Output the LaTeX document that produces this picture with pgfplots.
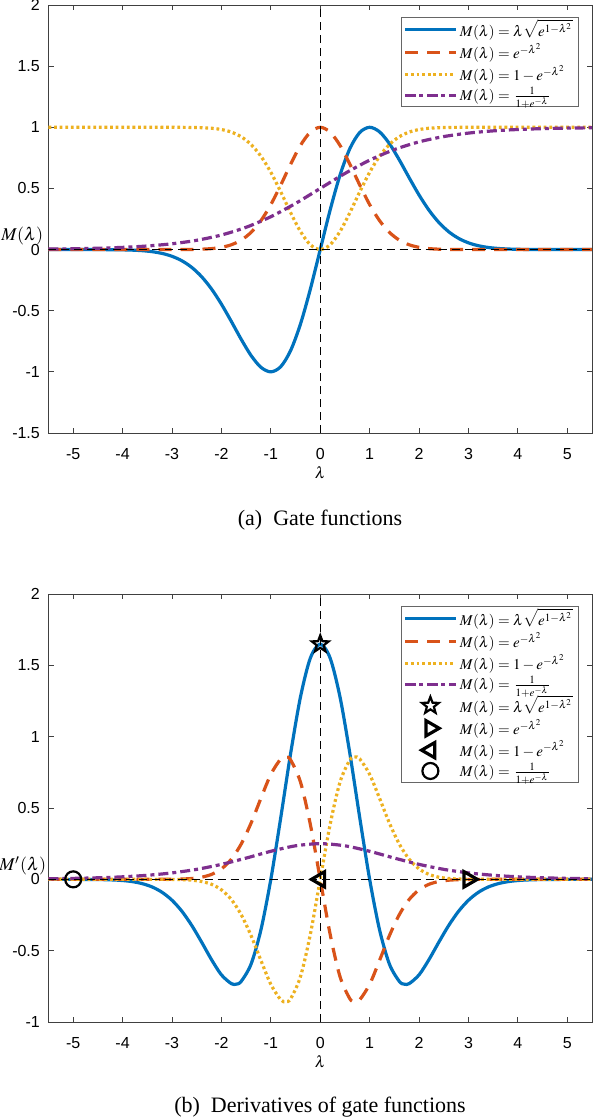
\documentclass[border=0pt]{standalone}
\usepackage{mathptmx}
\usepackage[no-math]{fontspec}
\setmainfont{Liberation Serif}
\newfontfamily\tickfont{Liberation Sans}
\usepackage{pgfplots}
\pgfplotsset{compat=1.18}
\definecolor{mblue}{rgb}{0,0.447,0.741}
\definecolor{mred}{rgb}{0.850,0.325,0.098}
\definecolor{myellow}{rgb}{0.929,0.694,0.125}
\definecolor{mpurple}{rgb}{0.494,0.184,0.556}
\pgfdeclareplotmark{pentagram}{%
  \pgfpathmoveto{\pgfqpointpolar{90}{\pgfplotmarksize}}%
  \pgfpathlineto{\pgfqpointpolar{126}{0.42\pgfplotmarksize}}%
  \pgfpathlineto{\pgfqpointpolar{162}{\pgfplotmarksize}}%
  \pgfpathlineto{\pgfqpointpolar{198}{0.42\pgfplotmarksize}}%
  \pgfpathlineto{\pgfqpointpolar{234}{\pgfplotmarksize}}%
  \pgfpathlineto{\pgfqpointpolar{270}{0.42\pgfplotmarksize}}%
  \pgfpathlineto{\pgfqpointpolar{306}{\pgfplotmarksize}}%
  \pgfpathlineto{\pgfqpointpolar{342}{0.42\pgfplotmarksize}}%
  \pgfpathlineto{\pgfqpointpolar{18}{\pgfplotmarksize}}%
  \pgfpathlineto{\pgfqpointpolar{54}{0.42\pgfplotmarksize}}%
  \pgfpathclose\pgfusepathqstroke}
\pgfplotsset{
  gatestyle/.style={
    width=271.75pt, height=214pt, scale only axis,
    xmin=-5.5, xmax=5.5, xtick={-5,-4,...,5},
    axis line style={black!75, line width=0.4pt},
    tick style={black!75, line width=0.4pt},
    tick align=inside, major tick length=2.7pt,
    ticklabel style={font=\tickfont\fontsize{8}{9}\selectfont},
    /pgf/number format/assume math mode=true,
    xticklabel style={yshift=-4.3pt},
    yticklabel style={xshift=-0.8pt},
    xlabel={$\lambda$},
    every axis x label/.style={at={(axis description cs:0.5,0)}, anchor=center, yshift=-20pt, font=\fontsize{8}{9}\selectfont},
    legend style={at={(rel axis cs:1,1)}, anchor=north east, xshift=-7pt, yshift=-6pt, outer sep=0pt,
      font=\fontsize{7.5}{8.5}\selectfont, draw=black!60, line width=0.4pt,
      inner xsep=1pt, inner ysep=1pt, row sep=0.9pt, column sep=0pt,
      nodes={inner xsep=1.5pt, inner ysep=0.4pt}},
    legend cell align=left,
    legend image code/.code={\draw[mark repeat=2,mark phase=2] plot coordinates {(0pt,0pt)(12.5pt,0pt)(25pt,0pt)};},
    every axis plot/.append style={line width=1.6pt},
  },
  c1/.style={mblue, solid},
  c2/.style={mred, dash pattern=on 6.5pt off 4.5pt},
  c3/.style={myellow, dash pattern=on 1.4pt off 1.4pt},
  c4/.style={mpurple, dash pattern=on 5pt off 2pt on 2pt off 2pt},
  refl/.style={black, line width=0.45pt, dash pattern=on 4pt off 2.5pt, forget plot},
  mk/.style={only marks, black, mark size=4.4pt, mark options={solid, line width=1.1pt, black, fill=none}},
}
\begin{document}
\begin{tikzpicture}
\path[use as bounding box] (0,0) rectangle (297pt,-560pt);
% ---------------- (a) gate functions ----------------
\begin{axis}[gatestyle, at={(24.25pt,-2.5pt)}, anchor=north west,
  ymin=-1.5, ymax=2, ytick={-1.5,-1,-0.5,0,0.5,1,1.5,2},
  ylabel={$M(\lambda)$},
  every axis y label/.style={at={(axis description cs:0,0.428571)}, anchor=east, inner sep=0pt, xshift=-2.5pt, yshift=6.8pt, font=\fontsize{9}{10}\selectfont}]
\addplot[c1, smooth] coordinates {
(-5.5,0) (-5,0) (-4.5,-0.0003) (-4.2,-0.0010) (-4,-0.0022) (-3.8,-0.0046) (-3.6,-0.0091) (-3.4,-0.0173) (-3.2,-0.0315) (-3,-0.0550) (-2.8,-0.0916) (-2.6,-0.1459) (-2.4,-0.2221) (-2.2,-0.3225) (-2,-0.4463) (-1.8,-0.5873) (-1.6,-0.7335) (-1.4,-0.8663) (-1.2,-0.9630) (-1,-1) (-0.8,-0.9578) (-0.6,-0.8263) (-0.4,-0.6088) (-0.2,-0.3232) (0,0)
(0.2,0.3232) (0.4,0.6088) (0.6,0.8263) (0.8,0.9578) (1,1) (1.2,0.9630) (1.4,0.8663) (1.6,0.7335) (1.8,0.5873) (2,0.4463) (2.2,0.3225) (2.4,0.2221) (2.6,0.1459) (2.8,0.0916) (3,0.0550) (3.2,0.0315) (3.4,0.0173) (3.6,0.0091) (3.8,0.0046) (4,0.0022) (4.2,0.0010) (4.5,0.0003) (5,0) (5.5,0)};
\addlegendentry{$M(\lambda)=\lambda\sqrt{e^{1-\lambda^2}}$}
\addplot[c2, smooth] coordinates {
(-5.5,0) (-5,0) (-4.5,0) (-4,0) (-3.5,0) (-3,0.0001) (-2.8,0.0004) (-2.6,0.0012) (-2.4,0.0032) (-2.2,0.0079) (-2,0.0183) (-1.8,0.0392) (-1.6,0.0773) (-1.4,0.1409) (-1.2,0.2369) (-1,0.3679) (-0.8,0.5273) (-0.6,0.6977) (-0.4,0.8521) (-0.2,0.9608) (0,1)
(0.2,0.9608) (0.4,0.8521) (0.6,0.6977) (0.8,0.5273) (1,0.3679) (1.2,0.2369) (1.4,0.1409) (1.6,0.0773) (1.8,0.0392) (2,0.0183) (2.2,0.0079) (2.4,0.0032) (2.6,0.0012) (2.8,0.0004) (3,0.0001) (3.5,0) (4,0) (4.5,0) (5,0) (5.5,0)};
\addlegendentry{$M(\lambda)=e^{-\lambda^2}$}
\addplot[c3, smooth] coordinates {
(-5.5,1) (-5,1) (-4.5,1) (-4,1) (-3.5,1) (-3,0.9999) (-2.8,0.9996) (-2.6,0.9988) (-2.4,0.9968) (-2.2,0.9921) (-2,0.9817) (-1.8,0.9608) (-1.6,0.9227) (-1.4,0.8591) (-1.2,0.7631) (-1,0.6321) (-0.8,0.4727) (-0.6,0.3023) (-0.4,0.1479) (-0.2,0.0392) (0,0)
(0.2,0.0392) (0.4,0.1479) (0.6,0.3023) (0.8,0.4727) (1,0.6321) (1.2,0.7631) (1.4,0.8591) (1.6,0.9227) (1.8,0.9608) (2,0.9817) (2.2,0.9921) (2.4,0.9968) (2.6,0.9988) (2.8,0.9996) (3,0.9999) (3.5,1) (4,1) (4.5,1) (5,1) (5.5,1)};
\addlegendentry{$M(\lambda)=1-e^{-\lambda^2}$}
\addplot[c4, smooth] coordinates {
(-5.5,0.0041) (-5,0.0067) (-4.5,0.0110) (-4,0.0180) (-3.5,0.0293) (-3,0.0474) (-2.5,0.0759) (-2,0.1192) (-1.5,0.1824) (-1,0.2689) (-0.5,0.3775) (0,0.5) (0.5,0.6225) (1,0.7311) (1.5,0.8176) (2,0.8808) (2.5,0.9241) (3,0.9526) (3.5,0.9707) (4,0.9820) (4.5,0.9890) (5,0.9933) (5.5,0.9959)};
\addlegendentry{$M(\lambda)=\frac{1}{1+e^{-\lambda}}$}
\addplot[refl] coordinates {(-5.5,0) (5.5,0)};
\addplot[refl] coordinates {(0,-1.5) (0,2)};
\end{axis}
\node[font=\fontsize{11}{13}\selectfont] at (160pt,-260pt) {(a)\hspace{0.5em}Gate functions};
% ---------------- (b) derivatives ----------------
\begin{axis}[gatestyle, at={(24.25pt,-297pt)}, anchor=north west,
  ymin=-1, ymax=2, ytick={-1,-0.5,0,0.5,1,1.5,2},
  ylabel={$M'(\lambda)$},
  every axis y label/.style={at={(axis description cs:0,0.333333)}, anchor=east, inner sep=0pt, xshift=-1pt, yshift=6.8pt, font=\fontsize{9}{10}\selectfont}]
\addplot[c1, smooth] coordinates {
(-5.5,0) (-5,-0.0002) (-4.5,-0.0013) (-4.2,-0.0041) (-4,-0.0083) (-3.8,-0.0162) (-3.6,-0.0303) (-3.4,-0.0538) (-3.2,-0.0910) (-3,-0.1465) (-2.8,-0.2237) (-2.6,-0.3233) (-2.4,-0.4405) (-2.2,-0.5630) (-2,-0.6694) (-1.8,-0.7309) (-1.7,-0.7346) (-1.6,-0.7151) (-1.4,-0.5940) (-1.2,-0.3531) (-1,0) (-0.8,0.4310) (-0.6,0.8814) (-0.4,1.2785) (-0.2,1.5514) (0,1.6487)
(0.2,1.5514) (0.4,1.2785) (0.6,0.8814) (0.8,0.4310) (1,0) (1.2,-0.3531) (1.4,-0.5940) (1.6,-0.7151) (1.7,-0.7346) (1.8,-0.7309) (2,-0.6694) (2.2,-0.5630) (2.4,-0.4405) (2.6,-0.3233) (2.8,-0.2237) (3,-0.1465) (3.2,-0.0910) (3.4,-0.0538) (3.6,-0.0303) (3.8,-0.0162) (4,-0.0083) (4.2,-0.0041) (4.5,-0.0013) (5,-0.0002) (5.5,0)};
\addlegendentry{$M(\lambda)=\lambda\sqrt{e^{1-\lambda^2}}$}
\addplot[c2, smooth] coordinates {
(-5.5,0) (-5,0) (-4.5,0) (-4,0) (-3.5,0) (-3,0.0007) (-2.8,0.0022) (-2.6,0.0060) (-2.4,0.0151) (-2.2,0.0348) (-2,0.0733) (-1.8,0.1410) (-1.6,0.2474) (-1.4,0.3944) (-1.2,0.5686) (-1,0.7358) (-0.8,0.8437) (-0.7,0.8577) (-0.6,0.8372) (-0.4,0.6817) (-0.2,0.3843) (0,0)
(0.2,-0.3843) (0.4,-0.6817) (0.6,-0.8372) (0.7,-0.8577) (0.8,-0.8437) (1,-0.7358) (1.2,-0.5686) (1.4,-0.3944) (1.6,-0.2474) (1.8,-0.1410) (2,-0.0733) (2.2,-0.0348) (2.4,-0.0151) (2.6,-0.0060) (2.8,-0.0022) (3,-0.0007) (3.5,0) (4,0) (4.5,0) (5,0) (5.5,0)};
\addlegendentry{$M(\lambda)=e^{-\lambda^2}$}
\addplot[c3, smooth] coordinates {
(-5.5,0) (-5,0) (-4.5,0) (-4,0) (-3.5,0) (-3,-0.0007) (-2.8,-0.0022) (-2.6,-0.0060) (-2.4,-0.0151) (-2.2,-0.0348) (-2,-0.0733) (-1.8,-0.1410) (-1.6,-0.2474) (-1.4,-0.3944) (-1.2,-0.5686) (-1,-0.7358) (-0.8,-0.8437) (-0.7,-0.8577) (-0.6,-0.8372) (-0.4,-0.6817) (-0.2,-0.3843) (0,0)
(0.2,0.3843) (0.4,0.6817) (0.6,0.8372) (0.7,0.8577) (0.8,0.8437) (1,0.7358) (1.2,0.5686) (1.4,0.3944) (1.6,0.2474) (1.8,0.1410) (2,0.0733) (2.2,0.0348) (2.4,0.0151) (2.6,0.0060) (2.8,0.0022) (3,0.0007) (3.5,0) (4,0) (4.5,0) (5,0) (5.5,0)};
\addlegendentry{$M(\lambda)=1-e^{-\lambda^2}$}
\addplot[c4, smooth] coordinates {
(-5.5,0.0041) (-5,0.0067) (-4.5,0.0109) (-4,0.0177) (-3.5,0.0285) (-3,0.0452) (-2.5,0.0701) (-2,0.1050) (-1.5,0.1491) (-1,0.1966) (-0.5,0.2350) (0,0.25) (0.5,0.2350) (1,0.1966) (1.5,0.1491) (2,0.1050) (2.5,0.0701) (3,0.0452) (3.5,0.0285) (4,0.0177) (4.5,0.0109) (5,0.0067) (5.5,0.0041)};
\addlegendentry{$M(\lambda)=\frac{1}{1+e^{-\lambda}}$}
\addplot[refl] coordinates {(-5.5,0) (5.5,0)};
\addplot[refl] coordinates {(0,-1) (0,2)};
\addplot[mk, mark=pentagram] coordinates {(0,1.6487)};
\addlegendentry{$M(\lambda)=\lambda\sqrt{e^{1-\lambda^2}}$}
\addplot[mk, mark=triangle, mark options={rotate=-90}] coordinates {(3,0)};
\addlegendentry{$M(\lambda)=e^{-\lambda^2}$}
\addplot[mk, mark=triangle, mark options={rotate=90}] coordinates {(0,0)};
\addlegendentry{$M(\lambda)=1-e^{-\lambda^2}$}
\addplot[mk, mark=o, mark size=4pt] coordinates {(-5,0)};
\addlegendentry{$M(\lambda)=\frac{1}{1+e^{-\lambda}}$}
\end{axis}
\node[font=\fontsize{11}{13}\selectfont] at (160pt,-553.5pt) {(b)\hspace{0.5em}Derivatives of gate functions};
\end{tikzpicture}
\end{document}
